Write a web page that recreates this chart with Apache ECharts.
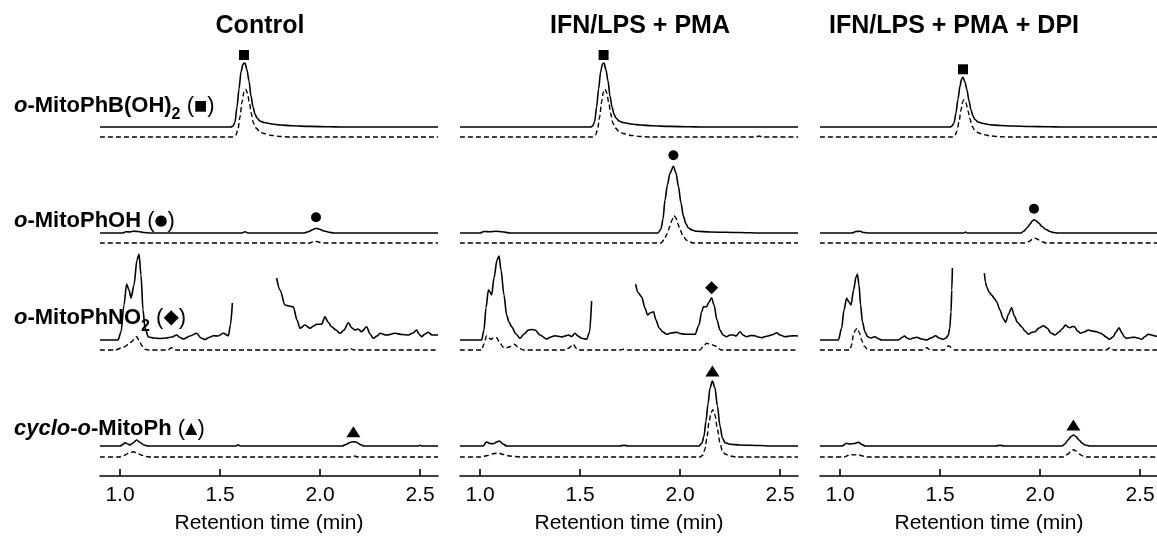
<!DOCTYPE html>
<html><head><meta charset="utf-8">
<script src="https://cdn.jsdelivr.net/npm/echarts@6/dist/echarts.min.js"></script>
<style>html,body{margin:0;padding:0;background:#fff}#c{width:1157px;height:539px}</style>
</head><body><div id="c"></div>
<script>
// ---------------- DATA ----------------
const panelTitles = ['Control', 'IFN/LPS + PMA', 'IFN/LPS + PMA + DPI'];
const rowLabels = [
  '{bi|o}{b|-MitoPhB(OH)}{sub|2}{n| (}{sq|■}{n|)}',
  '{bi|o}{b|-MitoPhOH}{n| (}{ci|●}{n|)}',
  '{bi|o}{b|-MitoPhNO}{sub|2}{n| (}{di|◆}{n|)}',
  '{bi|cyclo}{b|-}{bi|o}{b|-MitoPh}{n| (}{tr|▲}{n|)}'
];
const xTicks = [1.0, 1.5, 2.0, 2.5];
const xName = 'Retention time (min)';
const X_MIN = 0.9, X_MAX = 2.59;

// peak marker retention times per panel (row order: B(OH)2, OH, NO2, cyclo)
const ctrlMarkers = [1.62, 1.98, null, 2.167];
const ifnMarkers  = [1.618, 1.967, 2.158, 2.162];
const dpiMarkers  = [1.615, 1.97, null, 2.167];

// intensities (a.u.) vs retention time (min); solid = _s, dashed = _d
const ctrl_B_s = [[0.9,0],[1.555,0],[1.565,1],[1.575,5],[1.585,20],[1.595,38],[1.605,55],[1.615,63],[1.625,64],[1.635,57],[1.645,46],[1.655,31],[1.665,20],[1.675,13],[1.685,9],[1.70,6],[1.72,4.5],[1.76,3],[1.80,2],[1.86,1.2],[1.95,0.6],[2.05,0.2],[2.1,0],[2.59,0]];
const ctrl_B_d = [[0.9,0],[1.565,0],[1.58,2],[1.59,8],[1.60,20],[1.61,35],[1.62,45],[1.628,48],[1.637,44],[1.647,34],[1.657,23],[1.667,14],[1.68,9],[1.70,5],[1.72,3.5],[1.76,1.5],[1.80,0.5],[1.85,0],[2.59,0]];
const ctrl_OH_s = [[0.9,0],[1.01,0],[1.03,1.2],[1.05,1],[1.07,1.8],[1.09,1.5],[1.12,0.5],[1.15,0],[1.61,0],[1.625,1.2],[1.64,0],[1.92,0],[1.945,1.5],[1.965,3.5],[1.98,4.7],[1.995,4],[2.02,2],[2.045,0.8],[2.07,0],[2.59,0]];
const ctrl_OH_d = [[0.9,0],[1.95,0],[1.965,1.3],[1.985,1.5],[2.0,0.5],[2.02,0],[2.59,0]];
const ctrl_NO2_s = [[0.9,0],[0.99,0],[1.005,8],[1.02,35],[1.033,56],[1.045,50],[1.055,42],[1.07,55],[1.085,80],[1.095,86],[1.105,65],[1.115,30],[1.125,12],[1.142,3],[1.17,2],[1.2,1.5],[1.23,2],[1.26,3],[1.283,5],[1.3,2.5],[1.317,1],[1.35,4],[1.383,6.7],[1.405,2],[1.425,0.5],[1.445,2.5],[1.467,4.3],[1.49,4],[1.517,6.7],[1.542,4.3],[1.552,15],[1.562,37],[1.57,null],[1.783,62],[1.80,50],[1.825,35],[1.845,34],[1.867,33],[1.885,20],[1.9,11.7],[1.925,15],[1.95,11.7],[1.968,14],[1.983,15.7],[2.008,15.7],[2.025,23.3],[2.04,18],[2.058,13.3],[2.08,10],[2.1,6.7],[2.12,10],[2.142,17.3],[2.16,12],[2.175,10],[2.19,11],[2.208,8.3],[2.233,13.3],[2.25,6],[2.267,1.7],[2.285,4],[2.3,6.7],[2.333,5],[2.375,6.7],[2.41,5.5],[2.442,5],[2.465,7],[2.483,10],[2.495,6],[2.508,3.3],[2.525,6],[2.542,7.7],[2.56,5],[2.575,5],[2.59,5]];
const ctrl_NO2_d = [[0.9,0],[0.975,0],[1.02,3],[1.045,6],[1.058,8.3],[1.075,12],[1.083,13.3],[1.095,10],[1.11,4],[1.125,0.7],[1.14,0],[1.24,0],[1.258,2.3],[1.275,0],[2.13,0],[2.15,1.5],[2.17,0],[2.59,0]];
const ctrl_cyc_s = [[0.9,0],[1.0,0],[1.015,1.5],[1.025,3.3],[1.04,2],[1.05,1],[1.065,3],[1.083,6],[1.1,3.5],[1.12,1],[1.14,0],[1.58,0],[1.59,1.2],[1.60,0],[2.11,0],[2.13,1.5],[2.15,3.5],[2.167,4.3],[2.185,3.5],[2.2,1.5],[2.22,0],[2.49,0],[2.5,0.8],[2.51,0],[2.59,0]];
const ctrl_cyc_d = [[0.9,0],[0.995,0],[1.02,1.5],[1.045,4],[1.067,5.3],[1.085,4],[1.105,2],[1.13,0.5],[1.15,0],[2.15,0],[2.17,1],[2.19,0],[2.59,0]];

const ifn_B_s = [[0.9,0],[1.553,0],[1.563,1],[1.573,5],[1.583,20],[1.593,38],[1.603,55],[1.612,63],[1.62,64],[1.63,57],[1.64,46],[1.65,31],[1.66,20],[1.67,13],[1.68,9],[1.695,6],[1.715,4.5],[1.755,3],[1.8,2],[1.86,1.2],[1.95,0.6],[2.05,0.2],[2.1,0],[2.59,0]];
const ifn_B_d = [[0.9,0],[1.563,0],[1.578,2],[1.588,8],[1.598,20],[1.608,35],[1.617,45],[1.625,48],[1.634,44],[1.644,34],[1.654,23],[1.664,14],[1.677,9],[1.697,5],[1.717,3.5],[1.757,1.5],[1.8,0.5],[1.85,0],[2.38,0],[2.395,1],[2.41,0],[2.59,0]];
const ifn_OH_s = [[0.9,0],[1.0,0],[1.02,1.5],[1.05,1.2],[1.08,1.8],[1.11,1.2],[1.15,0],[1.89,0],[1.905,4],[1.915,14],[1.925,33],[1.937,48],[1.95,60],[1.967,66.7],[1.98,60],[1.992,46.7],[2.005,30],[2.017,16.7],[2.03,9],[2.042,5],[2.06,3],[2.083,1.7],[2.15,1],[2.3,0.5],[2.4,0],[2.59,0]];
const ifn_OH_d = [[0.9,0],[1.905,0],[1.92,3],[1.935,9],[1.95,16.7],[1.96,23],[1.97,27.3],[1.98,25],[1.99,19],[2.0,13.3],[2.015,7],[2.033,2.7],[2.05,1],[2.067,0],[2.59,0]];
const ifn_NO2_s = [[0.9,0],[1.008,0],[1.02,10],[1.03,32],[1.042,50],[1.05,48],[1.058,45],[1.07,62],[1.085,80],[1.095,84],[1.105,70],[1.12,45],[1.133,25],[1.145,18],[1.158,13.3],[1.18,6],[1.2,1.7],[1.22,6],[1.242,10],[1.26,10.5],[1.275,10],[1.3,5],[1.333,1],[1.355,3],[1.375,4.3],[1.408,3],[1.425,4],[1.442,5],[1.458,3.5],[1.475,6.7],[1.49,4],[1.508,1.7],[1.533,0.7],[1.548,8],[1.558,39],[1.565,null],[1.778,55.7],[1.792,47],[1.808,43.3],[1.825,32],[1.838,25],[1.85,27],[1.867,28.3],[1.88,20],[1.895,12.3],[1.915,8],[1.933,5.7],[1.955,7],[1.983,7.7],[2.0,6.5],[2.025,5.7],[2.05,5.7],[2.075,5.7],[2.095,15],[2.108,28],[2.117,33.3],[2.133,33.3],[2.145,38],[2.158,42.3],[2.17,35],[2.185,20],[2.2,10],[2.215,5],[2.233,3.3],[2.25,5],[2.267,5],[2.28,4],[2.3,8.3],[2.315,5],[2.333,3.3],[2.355,4.5],[2.375,4.3],[2.39,3],[2.408,2.3],[2.44,4],[2.465,5.5],[2.483,7.3],[2.5,5],[2.525,3.3],[2.55,4],[2.575,4.3],[2.59,4]];
const ifn_NO2_d = [[0.9,0],[1.008,0],[1.02,6],[1.033,14.3],[1.045,12],[1.055,10.7],[1.07,12.5],[1.083,12.3],[1.1,7],[1.115,3],[1.125,1.7],[1.145,3],[1.172,5.7],[1.195,2],[1.217,0],[1.43,0],[1.442,1.7],[1.458,4],[1.467,5.7],[1.48,2],[1.492,0],[1.7,0],[1.72,0.8],[1.74,0],[2.1,0],[2.118,4],[2.133,6.7],[2.155,5.5],[2.175,4.3],[2.19,1.5],[2.208,0],[2.59,0]];
const ifn_cyc_s = [[0.9,0],[1.015,0],[1.033,4],[1.05,2.5],[1.067,2.3],[1.083,4],[1.097,5],[1.115,2],[1.133,0],[1.7,0],[1.72,0.7],[1.74,0],[2.095,0],[2.11,3],[2.12,10],[2.13,25],[2.14,42],[2.15,58],[2.162,65],[2.175,58],[2.187,40],[2.2,20],[2.212,8],[2.225,3.3],[2.25,1.8],[2.3,1],[2.4,0.5],[2.45,0],[2.59,0]];
const ifn_cyc_d = [[0.9,0],[1.0,0],[1.04,1.5],[1.07,3.5],[1.092,4],[1.115,2.5],[1.15,1],[1.2,0],[2.1,0],[2.115,2],[2.125,8],[2.135,20],[2.145,35],[2.155,44],[2.164,47.3],[2.175,42],[2.187,28],[2.2,14],[2.212,6],[2.225,3],[2.25,1],[2.28,0],[2.59,0]];

const dpi_B_s = [[0.9,0],[1.55,0],[1.56,1],[1.57,4],[1.58,14],[1.59,28],[1.60,41],[1.608,48],[1.615,49.7],[1.625,45],[1.635,37],[1.645,26],[1.655,17],[1.665,11],[1.675,7.5],[1.69,5],[1.71,3.8],[1.75,2.3],[1.8,1.5],[1.86,1],[1.95,0.5],[2.05,0.2],[2.1,0],[2.59,0]];
const dpi_B_d = [[0.9,0],[1.56,0],[1.575,1.5],[1.585,6],[1.595,15],[1.605,27],[1.613,35],[1.62,37.3],[1.63,34],[1.64,26],[1.65,18],[1.66,11],[1.673,7],[1.693,4],[1.715,2.5],[1.755,1],[1.8,0.3],[1.85,0],[2.59,0]];
const dpi_OH_s = [[0.9,0],[1.06,0],[1.08,1.5],[1.1,1.7],[1.12,0.5],[1.14,0],[1.62,0],[1.628,1],[1.636,0],[1.905,0],[1.92,2],[1.935,5],[1.95,9],[1.962,12],[1.97,13.3],[1.98,12.5],[1.993,10],[2.01,6.5],[2.03,3.5],[2.05,1.5],[2.067,0.5],[2.09,0],[2.59,0]];
const dpi_OH_d = [[0.9,0],[1.925,0],[1.945,1.5],[1.96,3.5],[1.972,5],[1.985,4],[2.0,2.5],[2.015,1],[2.03,0],[2.59,0]];
const dpi_NO2_s = [[0.9,0],[0.992,0],[1.008,11.7],[1.02,30],[1.033,41.7],[1.045,38],[1.055,35],[1.068,50],[1.08,63],[1.087,65.7],[1.095,55],[1.103,35],[1.112,18.3],[1.125,8],[1.138,3.3],[1.155,2],[1.175,3.3],[1.19,1.5],[1.208,0],[1.292,0],[1.31,2.5],[1.322,4],[1.335,2],[1.35,0.7],[1.365,2],[1.383,2.7],[1.41,1],[1.433,0],[1.455,2],[1.478,4.3],[1.495,2],[1.517,0.7],[1.53,2],[1.542,5],[1.549,12],[1.555,28],[1.559,50],[1.562,72],[1.565,null],[1.722,66.7],[1.727,58],[1.733,53.3],[1.745,48],[1.758,45],[1.77,42],[1.783,38.3],[1.8,30],[1.815,22],[1.828,17.7],[1.843,26],[1.858,32.3],[1.872,24],[1.887,17.7],[1.908,13.3],[1.925,9],[1.942,5.7],[1.958,7.5],[1.975,8.3],[1.995,12],[2.017,14.3],[2.035,12],[2.055,7],[2.075,5],[2.095,8],[2.11,11],[2.128,15],[2.14,13],[2.15,12.3],[2.162,13.5],[2.172,13.3],[2.188,9],[2.203,6.7],[2.22,8],[2.242,10],[2.26,9],[2.283,8.3],[2.3,7],[2.312,5.7],[2.33,3],[2.347,0.7],[2.365,3],[2.38,8],[2.395,12.3],[2.41,7],[2.422,3],[2.433,1.7],[2.455,2.5],[2.475,2.7],[2.49,2],[2.508,0.7],[2.525,3.5],[2.542,5.7],[2.56,5],[2.575,4],[2.59,3.5]];
const dpi_NO2_d = [[0.9,0],[1.05,0],[1.058,5],[1.067,15],[1.077,20],[1.087,21.7],[1.097,17],[1.108,10],[1.12,4],[1.138,0.7],[1.15,0],[1.415,0],[1.433,2.3],[1.45,0],[1.52,0],[1.535,3],[1.542,4.3],[1.555,2.5],[1.572,0],[2.33,0],[2.35,2.3],[2.37,0],[2.59,0]];
const dpi_cyc_s = [[0.9,0],[1.01,0],[1.033,2.7],[1.05,2],[1.07,2.5],[1.092,3.7],[1.11,1.5],[1.125,0],[1.78,0],[1.8,0.7],[1.82,0],[2.11,0],[2.125,2],[2.14,6],[2.155,9.5],[2.167,11],[2.18,9.5],[2.195,6],[2.21,3],[2.225,1],[2.25,0],[2.59,0]];
const dpi_cyc_d = [[0.9,0],[1.02,0],[1.04,1.5],[1.05,2.7],[1.07,2],[1.09,2.7],[1.11,1.2],[1.13,0],[2.12,0],[2.14,3],[2.155,6],[2.167,7.3],[2.18,6],[2.195,3],[2.215,1],[2.23,0],[2.59,0]];

// ---------------- LAYOUT / STYLE ----------------
const FONT = '"Liberation Sans", Arial, Helvetica, sans-serif';
const panelLeft = [100, 460, 820];
const panelWidth = 338;
const titleX = [260, 640, 954];
const solidBase = [127, 233, 340, 446];
const dashBase = [137, 243, 350, 457];
const axisY = 476;
const HEAD = 100;
const labelY = [106, 221, 318, 429];
const markerSym = [
  {symbol: 'rect', size: [10, 10], off: 8},
  {symbol: 'circle', size: 10, off: 11},
  {symbol: 'diamond', size: [13, 13], off: 10},
  {symbol: 'triangle', size: [14, 11], off: 10}
];

const traces = [
  [[ctrl_B_s, ctrl_B_d], [ctrl_OH_s, ctrl_OH_d], [ctrl_NO2_s, ctrl_NO2_d], [ctrl_cyc_s, ctrl_cyc_d]],
  [[ifn_B_s, ifn_B_d], [ifn_OH_s, ifn_OH_d], [ifn_NO2_s, ifn_NO2_d], [ifn_cyc_s, ifn_cyc_d]],
  [[dpi_B_s, dpi_B_d], [dpi_OH_s, dpi_OH_d], [dpi_NO2_s, dpi_NO2_d], [dpi_cyc_s, dpi_cyc_d]]
];
const markers = [ctrlMarkers, ifnMarkers, dpiMarkers];

function peakAt(data, t) {
  let m = -Infinity;
  data.forEach(p => { if (p[1] != null && Math.abs(p[0] - t) <= 0.02 && p[1] > m) m = p[1]; });
  return m;
}

const grids = [], xAxes = [], yAxes = [], series = [];
panelTitles.forEach((title, pi) => {
  for (let ri = 0; ri < 4; ri++) {
    const gi = pi * 4 + ri;
    const S = solidBase[ri], D = dashBase[ri];
    const B = ri === 3 ? axisY : D + 4;
    const top = S - HEAD;
    grids.push({left: panelLeft[pi], width: panelWidth, top: top, height: B - top,
      containLabel: false, outerBoundsMode: 'none'});
    if (ri === 3) {
      xAxes.push({type: 'value', gridIndex: gi, min: X_MIN, max: X_MAX,
        axisLine: {show: true, onZero: false, lineStyle: {color: '#000', width: 1.6}},
        axisTick: {show: true, inside: true, length: 7, customValues: xTicks, lineStyle: {color: '#000', width: 1.6}},
        axisLabel: {show: true, customValues: xTicks, formatter: v => v.toFixed(1), fontSize: 21, color: '#000', fontFamily: FONT, margin: 9},
        splitLine: {show: false},
        name: xName, nameLocation: 'middle', nameGap: 37,
        nameTextStyle: {fontSize: 21, color: '#000', fontFamily: FONT}});
    } else {
      xAxes.push({type: 'value', gridIndex: gi, min: X_MIN, max: X_MAX, show: false});
    }
    yAxes.push({type: 'value', gridIndex: gi, min: -(B - S), max: HEAD, show: false});
    yAxes.push({type: 'value', gridIndex: gi, min: -(B - D), max: HEAD + (D - S), show: false});
    const [sData, dData] = traces[pi][ri];
    const mt = markers[pi][ri];
    const solid = {type: 'line', xAxisIndex: gi, yAxisIndex: 2 * gi, data: sData,
      symbol: 'none', smooth: 0.3, smoothMonotone: 'x', connectNulls: false, silent: true,
      lineStyle: {color: '#000', width: 1.6}};
    if (mt != null) {
      const ms = markerSym[ri];
      solid.markPoint = {symbol: ms.symbol, symbolSize: ms.size, symbolOffset: [0, -ms.off],
        itemStyle: {color: '#000'}, label: {show: false}, silent: true,
        data: [{coord: [mt, peakAt(sData, mt)]}]};
    }
    series.push(solid);
    series.push({type: 'line', xAxisIndex: gi, yAxisIndex: 2 * gi + 1, data: dData,
      symbol: 'none', smooth: 0.3, smoothMonotone: 'x', silent: true,
      lineStyle: {color: '#000', width: 1.4, type: [5, 3]}});
  }
});

const richStyle = {
  b: {fontSize: 22, fontWeight: 'bold', fontFamily: FONT, fill: '#000'},
  bi: {fontSize: 22, fontWeight: 'bold', fontStyle: 'italic', fontFamily: FONT, fill: '#000'},
  sub: {fontSize: 16, fontWeight: 'bold', fontFamily: FONT, fill: '#000', lineHeight: 16, padding: [17, 0, 0, 0]},
  n: {fontSize: 22, fontFamily: FONT, fill: '#000'},
  sq: {fontSize: 14, fontFamily: '"DejaVu Sans", sans-serif', fill: '#000'},
  ci: {fontSize: 15, fontFamily: '"DejaVu Sans", sans-serif', fill: '#000'},
  di: {fontSize: 20, fontFamily: '"DejaVu Sans", sans-serif', fill: '#000'},
  tr: {fontSize: 16, fontFamily: '"DejaVu Sans", sans-serif', fill: '#000'}
};

const graphic = [];
panelTitles.forEach((t, i) => {
  graphic.push({type: 'text', x: titleX[i], y: 26, silent: true,
    style: {text: t, align: 'center', verticalAlign: 'middle', fill: '#000',
      font: 'bold 25px ' + FONT}});
});
rowLabels.forEach((t, i) => {
  graphic.push({type: 'text', x: 14, y: labelY[i], silent: true,
    style: {text: t, align: 'left', verticalAlign: 'middle', rich: richStyle, fill: '#000',
      font: 'bold 22px ' + FONT}});
});

const chart = echarts.init(document.getElementById('c'), null, {renderer: 'canvas'});
chart.setOption({
  animation: false,
  backgroundColor: '#fff',
  grid: grids, xAxis: xAxes, yAxis: yAxes, series: series, graphic: graphic
});
</script></body></html>
